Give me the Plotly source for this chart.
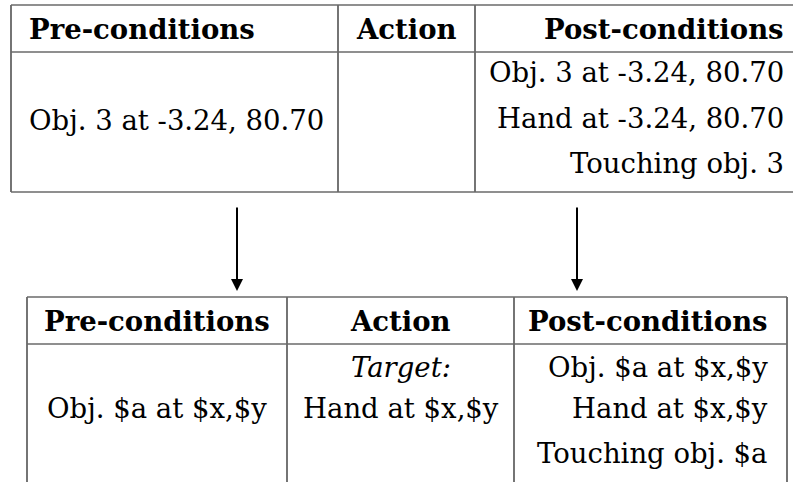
import plotly.graph_objects as go

# ---- content ----
headers = ["Pre-conditions", "Action", "Post-conditions"]
top_pre = ["Obj. 3 at -3.24, 80.70"]
top_action = []
top_post = ["Obj. 3 at -3.24, 80.70", "Hand at -3.24, 80.70", "Touching obj. 3"]
bottom_pre = ["Obj. $a at $x,$y"]
bottom_action = ["<i>Target:</i>", "Hand at $x,$y"]
bottom_post = ["Obj. $a at $x,$y", "Hand at $x,$y", "Touching obj. $a"]

# ---- layout constants ----
W, H = 793, 482
FONT = "DejaVu Serif"
FS = 27.5
HLINE = "#6a6a6a"
VLINE = "#2a2a2a"

fig = go.Figure()
shapes = []
ann = []

def hline(x0, x1, y):
    shapes.append(dict(type="line", x0=x0, x1=x1, y0=y, y1=y, xref="x", yref="y",
                       line=dict(color=HLINE, width=1.5)))

def vline(x, y0, y1):
    shapes.append(dict(type="line", x0=x, x1=x, y0=y0, y1=y1, xref="x", yref="y",
                       line=dict(color=VLINE, width=1.3)))

def text(t, x, y, anchor, bold=False):
    ann.append(dict(x=x, y=y, xref="x", yref="y", text=("<b>%s</b>" % t) if bold else t,
                    showarrow=False, xanchor=anchor, yanchor="middle",
                    font=dict(family=FONT, size=FS, color="black")))

# top table
T_L, T_R, T_TOP, T_HS, T_BOT = 11, 800, 5, 52, 192
T_C1, T_C2 = 338, 475
for x in (T_L, T_C1, T_C2, T_R):
    vline(x, T_TOP, T_BOT)
for y in (T_TOP, T_HS, T_BOT):
    hline(T_L, T_R, y)
text(headers[0], 27, 29, "left", True)
text(headers[1], (T_C1 + T_C2) / 2, 29, "center", True)
text(headers[2], 786, 29, "right", True)
text(top_pre[0], 27, 120, "left")
rows_top = [72, 118, 163]
for i, t in enumerate(top_action):
    text(t, (T_C1 + T_C2) / 2, rows_top[i], "center")
for i, t in enumerate(top_post):
    text(t, 786, rows_top[i], "right")

# bottom table
B_L, B_R, B_TOP, B_HS, B_BOT = 27, 787, 297, 344, 500
B_C1, B_C2 = 287, 514
for x in (B_L, B_C1, B_C2, B_R):
    vline(x, B_TOP, B_BOT)
for y in (B_TOP, B_HS):
    hline(B_L, B_R, y)
text(headers[0], (B_L + B_C1) / 2, 321, "center", True)
text(headers[1], (B_C1 + B_C2) / 2, 321, "center", True)
text(headers[2], 770, 321, "right", True)
rows_bot = [367, 408, 453]
text(bottom_pre[0], (B_L + B_C1) / 2, rows_bot[1], "center")
for i, t in enumerate(bottom_action):
    text(t, (B_C1 + B_C2) / 2, rows_bot[i], "center")
for i, t in enumerate(bottom_post):
    text(t, 770, rows_bot[i], "right")

# arrows
for x in (237, 577):
    ann.append(dict(x=x, y=291, ax=x, ay=206, xref="x", yref="y", axref="x", ayref="y",
                    showarrow=True, arrowhead=2, arrowsize=1.2, arrowwidth=2,
                    arrowcolor="black", text=""))

fig.update_layout(
    width=W, height=H, margin=dict(l=0, r=0, t=0, b=0),
    paper_bgcolor="white", plot_bgcolor="white",
    xaxis=dict(range=[0, W], visible=False, fixedrange=True),
    yaxis=dict(range=[H, 0], visible=False, fixedrange=True),
    shapes=shapes, annotations=ann, showlegend=False,
)
fig.write_html(
    "out.html",
    config={"displayModeBar": False},
    post_script="document.body.style.margin='0';document.body.style.overflow='hidden';",
)
